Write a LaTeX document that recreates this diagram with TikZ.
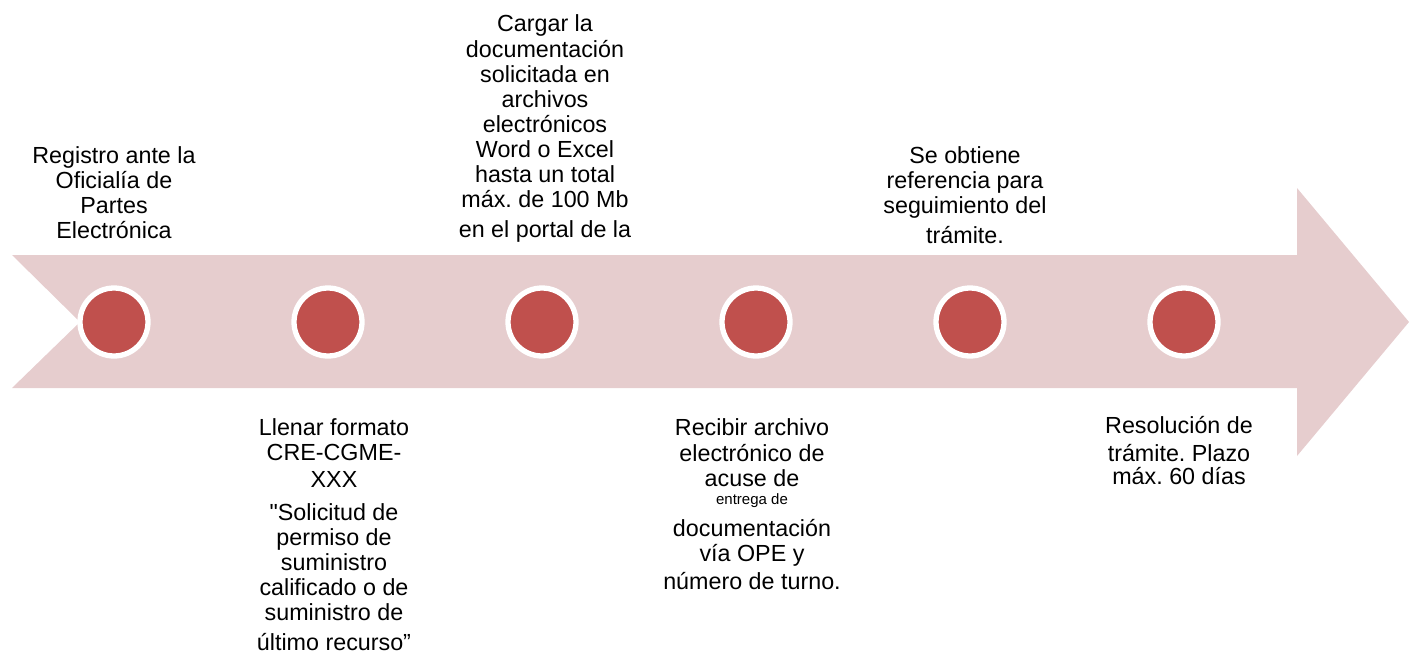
\documentclass[tikz,border=0pt]{standalone}
\usepackage{fontspec}
\setmainfont{Liberation Sans}
\frenchspacing
\definecolor{arrowfill}{HTML}{E6CDCE}
\definecolor{dotred}{HTML}{C0504D}
\tikzset{
  dot/.style={circle, fill=dotred, draw=white, line width=5.3pt, minimum size=68pt, inner sep=0pt},
  lbl/.style={align=center, anchor=north, inner sep=0pt, font=\fontsize{23.3}{25}\selectfont\frenchspacing},
}
\newcommand{\fstrut}{\rule{0pt}{18pt}}
\begin{document}
\begin{tikzpicture}[x=1pt,y=-1pt]
\useasboundingbox (0,0) rectangle (1409,653);
% big arrow
\fill[arrowfill] (12,255) -- (1297,255) -- (1297,188) -- (1409,322) -- (1297,456)
  -- (1297,388) -- (12,388) -- (80,322) -- cycle;
% dots
\node[dot] (d1) at (114,322) {};
\node[dot] (d2) at (328,322) {};
\node[dot] (d3) at (542,322) {};
\node[dot] (d4) at (756,322) {};
\node[dot] (d5) at (970,322) {};
\node[dot] (d6) at (1184,322) {};
% labels
\node[lbl] (t1) at (114,145) {\fstrut Registro ante la\\Oficialía de\\Partes\\Electrónica};
\node[lbl] (t3) at (545,13.7) {\fstrut Cargar la\\[1pt]documentación\\solicitada en\\archivos\\electrónicos\\Word o Excel\\hasta un total\\máx. de 100 Mb\\[5pt]en el portal de la};
\node[lbl] (t5) at (965,145) {\fstrut Se obtiene\\referencia para\\seguimiento del\\[5pt]trámite.};
\node[lbl] (t2) at (334,417) {\fstrut Llenar formato\\CRE-CGME-\\[2pt]XXX\\[8pt]\textquotedbl Solicitud de\\permiso de\\suministro\\calificado o de\\suministro de\\[5pt]último recurso”};
\node[lbl] (t4) at (752,417) {\fstrut Recibir archivo\\[1.7pt]electrónico de\\acuse de\\[-7pt]{\fontsize{15}{17}\selectfont entrega de}\\[6.7pt]documentación\\vía OPE y\\[3.3pt]número de turno.};
\node[lbl] (t6) at (1179,415) {\fstrut Resolución de\\[3pt]trámite. Plazo\\[-2pt]máx. 60 días};
\end{tikzpicture}
\end{document}
